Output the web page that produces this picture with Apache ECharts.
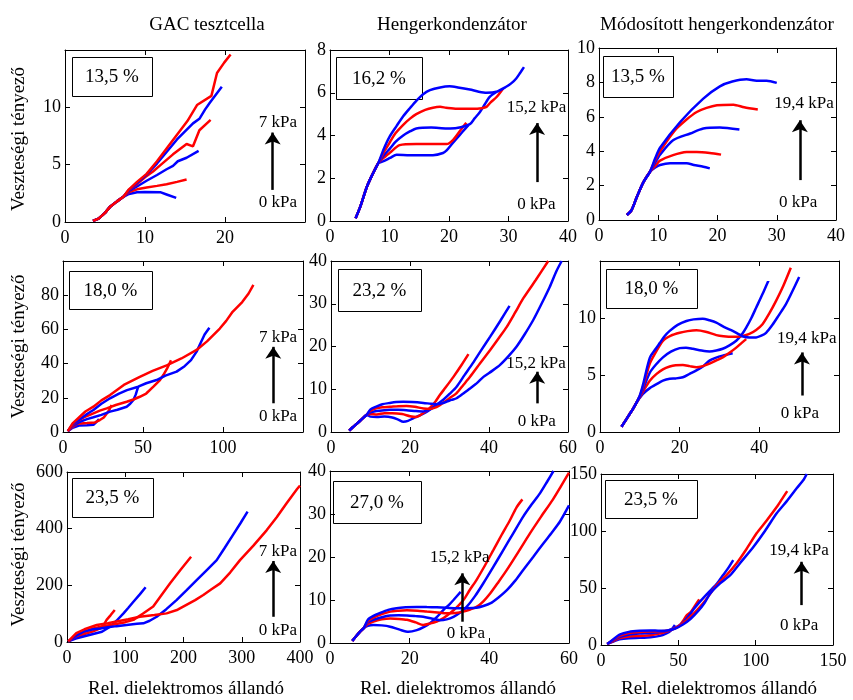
<!DOCTYPE html>
<html>
<head>
<meta charset="utf-8">
<script src="https://cdn.jsdelivr.net/npm/echarts@6/dist/echarts.min.js"></script>
<style>
html,body{margin:0;padding:0;background:#fff}
#chart{width:853px;height:700px}
</style>
</head>
<body>
<div id="chart"></div>
<script>
// ---- text ----
const columnTitles = ['GAC tesztcella', 'Hengerkondenzátor', 'Módosított hengerkondenzátor'];
const xAxisTitle = 'Rel. dielektromos állandó';
const yAxisTitle = 'Veszteségi tényező';
const moistureLabels = ['13,5 %', '16,2 %', '13,5 %', '18,0 %', '23,2 %', '18,0 %', '23,5 %', '27,0 %', '23,5 %'];
const pressureHigh = ['7 kPa', '15,2 kPa', '19,4 kPa', '7 kPa', '15,2 kPa', '19,4 kPa', '7 kPa', '15,2 kPa', '19,4 kPa'];
const pressureLow = '0 kPa';

// ---- axis scales [min, max, interval] ----
const xRanges = [[0,30,10],[0,40,10],[0,40,10],[0,150,50],[0,60,20],[0,60,20],[0,400,100],[0,60,20],[0,150,50]];
const yRanges = [[0,15,5],[0,8,2],[0,10,2],[0,100,20],[0,40,10],[0,15,5],[0,600,200],[0,40,10],[0,150,50]];

// ---- measured curves, ordered from low to high pressure ----
const gac135Start = [[3.5,0.1],[4.2,0.3],[5,0.8],[5.6,1.3],[6.5,1.8],[7.3,2.2]];
const gac135 = [
  gac135Start.concat([[8,2.45],[9,2.6],[10,2.62],[11.9,2.6],[12.7,2.4],[13.9,2.1]]),
  gac135Start.concat([[8,2.6],[9,2.85],[10.2,3.0],[11.5,3.15],[12.7,3.3],[14,3.5],[15.2,3.7]]),
  gac135Start.concat([[8,2.7],[9,3.1],[10.2,3.6],[11.5,4.1],[12.7,4.6],[13.5,4.9],[14.1,5.3],[15.2,5.6],[16.7,6.2]]),
  gac135Start.concat([[8,2.8],[9,3.3],[10,3.9],[11,4.4],[12,5.0],[13.5,5.9],[15.2,6.8],[16,6.6],[16.8,8.0],[18.2,8.9]]),
  gac135Start.concat([[8,2.8],[9,3.4],[10,4.0],[11.5,5.1],[12.7,6.1],[14,7.2],[15,7.9],[16,8.6],[16.8,9.0],[17.5,9.8],[18.1,10.4],[19.6,11.8]]),
  gac135Start.concat([[8,2.85],[9,3.5],[10.2,4.2],[11.5,5.3],[12.7,6.4],[14,7.6],[15.3,8.8],[16.5,10.2],[18.3,11.0],[19,13.0],[19.9,13.9],[20.7,14.6]])
];

const hk162Start = [[4.3,0.13],[5,0.6],[6.2,1.6],[7,2.1],[8.1,2.7]];
const hk162 = [
  hk162Start.concat([[9,2.8],[10.1,2.95],[11.2,3.1],[13.4,3.08],[17.3,3.08],[19,3.18],[19.6,3.3],[20.5,3.6],[21.3,3.86],[22.2,4.15],[23.3,4.5]]),
  hk162Start.concat([[9,2.95],[10.1,3.2],[11.7,3.55],[14.5,3.6],[19.6,3.6],[20.7,3.8],[21.8,4.2],[22.9,4.6]]),
  hk162Start.concat([[9,3.05],[10.1,3.4],[11,3.7],[12.3,4.0],[13.5,4.2],[14.5,4.33],[17,4.37],[19.6,4.33],[21.3,4.35],[23.5,4.53],[24.3,4.8],[25.2,5.1],[26,5.45],[26.8,5.8],[28,6.05]]),
  hk162Start.concat([[9,3.2],[10.1,3.7],[11,4.1],[12.3,4.5],[13.5,4.8],[14.5,5.0],[16,5.2],[17.3,5.3],[18.5,5.34],[19.5,5.3],[21.3,5.25],[24,5.25],[25.5,5.28],[26.3,5.34],[27,5.55],[28,5.8],[29.1,6.2]]),
  hk162Start.concat([[9,3.35],[10,3.94],[11.2,4.45],[12.3,4.9],[13.5,5.3],[14.5,5.62],[15.6,5.92],[16.8,6.12],[18.5,6.25],[20.1,6.3],[21.5,6.25],[23.5,6.15],[25,6.05],[26.3,6.0],[28,6.05],[29.6,6.28],[30.5,6.45],[31.3,6.67],[32,6.95],[32.6,7.2]])
];

const mhk135Start = [[4.7,0.29],[5.5,0.58],[6.4,1.35],[7.5,2.2],[8.6,2.8]];
const mhk135 = [
  mhk135Start.concat([[9.5,3.05],[10.3,3.2],[12,3.3],[14.8,3.3],[16,3.2],[17.6,3.1],[18.7,3.0]]),
  mhk135Start.concat([[9.5,3.15],[10.3,3.45],[12.5,3.77],[14.8,3.95],[16.5,3.96],[18.7,3.9],[20.6,3.8]]),
  mhk135Start.concat([[9.5,3.35],[10.3,3.8],[12.5,4.64],[15.4,5.03],[17.6,5.32],[20.4,5.38],[23.7,5.26]]),
  mhk135Start.concat([[9.5,3.5],[10.3,4.0],[13.1,5.32],[16.5,6.28],[19.9,6.67],[22.7,6.7],[24.5,6.55],[26.8,6.42]]),
  mhk135Start.concat([[9.5,3.6],[10.3,4.2],[13.7,5.7],[17.6,7.06],[20.4,7.77],[22.5,8.05],[24.9,8.18],[26.6,8.1],[28.3,8.1],[30,7.97]])
];

const gac180 = [
  [[3,0.5],[6,2.5],[10,3.8],[15,4.0],[19,4.2],[21,6.0],[22.5,7.5]],
  [[3,0.5],[6,3.0],[9,4.8],[15,5.2],[20,5.6],[23,7.0],[25.5,8.5],[27.5,11],[29,13],[30.4,15.8]],
  [[3,0.5],[6,3.5],[10.6,6],[15,7.5],[19,8.6],[24,10],[29.4,11.9],[34,13],[39.8,14.8],[42,16.5],[44,18.7],[45.5,22],[47,26.5]],
  [[3,0.5],[6,4],[8.5,6],[13,8.5],[19,10.9],[23,12.5],[27.3,13.8],[33,15.8],[39.8,17.7],[44,19],[48,20.6],[52,22.5],[56.5,26.5],[60.6,30.4],[62.7,33.3],[65,37],[67.5,42]],
  [[3,0.5],[6,4.5],[10.6,7.5],[15,10.5],[19,12.9],[24,16.5],[29.4,19.7],[35,22.5],[40,24.5],[47,26.5],[52,28.5],[58.5,30.4],[64,33],[71,35.3],[76,38.5],[80,42],[83.5,47],[86,52],[88.5,57],[91.5,61]],
  [[3,0.5],[6,5],[10,8.5],[14,12],[19,14.8],[24,18.5],[29.4,21.6],[38,27.5],[48,32.3],[56,35.7],[64.8,39],[74,43],[83.5,48],[90,53],[98,60.5],[102,65],[106,70.3],[112,76],[116,81],[119,86]]
];

const hk232Start = [[4.6,0.3],[5.5,1.1],[6.5,1.9],[7.8,3.0],[9,4.0]];
const hk232 = [
  hk232Start.concat([[10,3.6],[11.6,3.5],[13.5,3.6],[15.5,3.4],[17,2.9],[18.3,2.4],[19.5,2.6],[20.8,3.2],[22.5,3.9],[24.2,4.7],[25.5,5.5],[26.7,6.3]]),
  hk232Start.concat([[10,4.2],[11.6,4.1],[13.5,4.4],[15.5,4.4],[18,4.2],[20,3.7],[21.6,3.5],[23,4.2],[25.1,5.7],[26.5,7.2],[27.6,8.7],[29,10.4],[31,12.9],[33,15.6],[34.8,18.2]]),
  hk232Start.concat([[10,4.6],[11.6,4.9],[13.5,5.1],[14.9,5.2],[17,5.2],[19.1,5.1],[21.5,4.9],[23.4,4.8],[24.7,5.2],[25.9,5.8],[27.2,6.7],[28.5,7.6],[30,8.9],[31.8,10.6],[33.8,13.3],[35.9,16.1],[38,19.1],[40.3,22.3],[42.8,25.9],[45.2,29.5]]),
  hk232Start.concat([[10,5.0],[11.6,5.6],[13,5.8],[14.9,5.9],[17,6.05],[19.1,6.1],[21.2,5.9],[23.4,5.5],[25,5.4],[26.7,5.8],[28.5,6.9],[30,7.9],[31.8,9.1],[33.5,11],[35.2,12.9],[37.7,16],[40.3,19.2],[42.5,22],[44.5,24.6],[46.6,27.9],[48.7,31.3],[51.8,35.5],[55,40]]),
  hk232Start.concat([[10,5.3],[11.6,6.0],[13,6.5],[14.9,6.8],[16.5,7.0],[18.3,7.05],[20.5,7.0],[23.4,6.8],[25.3,6.6],[26.8,6.5],[28,6.7],[29.3,7.1],[30.5,7.5],[31.8,7.9],[33.5,9.0],[35.2,10.2],[37,11.5],[38.6,12.9],[40.8,14.3],[42.8,15.7],[45,17.8],[47,20],[49,22.8],[51.2,26.2],[53.3,30],[55.4,34],[57,37.5],[58.4,40]])
];

const mhk180Start = [[5.4,0.46],[6.4,1.0],[7.5,1.6],[8.4,2.1],[9.2,2.6]];
const mhk180 = [
  mhk180Start.concat([[10,3.0],[10.8,3.35],[12.5,3.85],[14.2,4.2],[15.8,4.5],[17.5,4.67],[19,4.7],[20.8,4.8],[22.5,5.1],[24.2,5.4],[26,5.8],[27.5,6.26],[29,6.5],[30.8,6.7],[33.3,6.9]]),
  mhk180Start.concat([[10,3.05],[10.8,3.55],[12.5,4.5],[14.2,5.1],[15.8,5.5],[17.5,5.74],[19,5.85],[20.8,5.88],[22.5,5.78],[24.2,5.68],[25.8,5.78],[27.5,6.0],[29,6.25],[30.8,6.55],[32.5,6.95],[34.2,7.4],[35.5,7.8],[36.7,8.15]]),
  mhk180Start.concat([[10,3.1],[10.8,3.75],[12.5,5.2],[14,5.9],[15.8,6.55],[17.8,7.05],[20,7.36],[21.6,7.4],[23.3,7.3],[25.5,7.15],[27.5,7.07],[29.2,7.15],[30.8,7.3],[32.5,7.6],[34.2,8.0],[35.5,8.5],[36.7,9.16],[38,10],[39.2,10.9],[40.8,12.1],[42.3,13.3]]),
  mhk180Start.concat([[10,3.15],[10.8,3.95],[12.5,6.0],[14,7.0],[15.8,8.0],[17.8,8.45],[20,8.7],[22,8.85],[24.2,8.93],[26.5,8.8],[29.2,8.5],[31,8.4],[33.3,8.35],[35.5,8.4],[37.5,8.6],[39.2,8.95],[40.8,9.45],[42.5,10.4],[44.2,11.5],[46,12.8],[47.9,14.4]]),
  mhk180Start.concat([[10,3.2],[10.8,4.15],[12.5,6.5],[14,7.3],[15,7.8],[16.2,8.4],[17.5,8.87],[19.5,9.4],[21.7,9.74],[23.5,9.88],[25.8,9.94],[27.5,9.8],[29.2,9.6],[31.2,9.2],[33.3,8.87],[35.8,8.4],[37.5,8.3],[39.2,8.3],[40.5,8.45],[41.7,8.7],[43.3,9.4],[45,10.3],[46.5,11.1],[47.9,12.06],[50,13.6]])
];

const gac235 = [
  [[2,2],[15,15],[30,28],[45,38],[57,48],[63,60],[68,78],[75,95],[82,113]],
  [[2,2],[15,12],[30,20],[45,28],[60,36],[74,54],[85,75],[97,101],[105,120],[114,142],[125,168],[135,193]],
  [[2,2],[15,20],[30,35],[45,48],[60,55],[80,62],[100,70],[114,78],[130,100],[148,125],[162,165],[177,207],[195,255],[213,301]],
  [[2,2],[15,22],[30,38],[45,45],[57,48],[70,52],[85,56],[102,60],[120,64],[131,66],[142,75],[154,89],[170,115],[188,148],[205,182],[223,219],[240,254],[257,289],[270,330],[285,378],[298,420],[310,460]],
  [[2,2],[16,31],[30,45],[51,60],[70,66],[85,72],[105,80],[125,89],[150,95],[171,101],[190,114],[205,131],[220,148],[234,166],[248,186],[263,207],[280,245],[297,289],[320,340],[343,395],[360,440],[377,490],[395,540],[400,552]]
];

const hk270Start = [[5.6,0.5],[6.5,1.5],[7.5,2.6],[8.5,3.5]];
const hk270 = [
  hk270Start.concat([[9.5,4.0],[10.9,4.2],[13,4.1],[15.1,3.8],[17.5,3.1],[19.7,2.6],[21.8,3.0],[23.5,3.7],[25.1,4.6],[26.8,6.0],[28.5,7.7],[30,9.0],[31,10],[32.8,11.9]]),
  hk270Start.concat([[9.5,4.4],[10.9,5.0],[13,5.5],[15.1,5.7],[17.3,5.6],[19.3,5.4],[21.5,4.8],[23.4,4.2],[25,4.5],[26.8,5.0],[28.5,5.8],[30.1,6.9],[31.8,8.3],[33.5,10],[35,12.2],[36.8,14.7],[39,18.2],[41,21.6],[43,25],[45.2,28.6],[46.8,31.5],[48.3,33.4]]),
  hk270Start.concat([[9.5,4.8],[10.9,5.4],[13,6.0],[15.1,6.4],[17.2,6.45],[19.3,6.4],[21.5,6.25],[23.4,6.1],[25.5,5.7],[27.6,5.3],[29.3,5.5],[31,6.1],[32.7,7.1],[34.3,8.4],[36.4,10.9],[38.5,13.9],[41,17.7],[43.5,21.6],[46,25.5],[48.5,29.4],[50.6,32.2],[52.7,34.8],[54.5,37.5],[56.1,40]]),
  hk270Start.concat([[9.5,5.1],[10.9,5.9],[13,6.7],[15.1,7.3],[17.2,7.5],[19.3,7.6],[22,7.5],[24.3,7.3],[27,7.1],[29.3,6.9],[31.5,7.0],[33.5,7.3],[35.2,7.8],[36.8,8.4],[38.5,9.7],[40.2,11.5],[42.3,14.2],[44.4,17],[47.3,21.2],[50.2,25.5],[53,29.4],[55.9,33.3],[58,36.5],[60,39.6]]),
  hk270Start.concat([[9.5,5.4],[10.9,6.3],[12.6,7.0],[14.6,7.7],[16.7,8.1],[19,8.3],[21.8,8.4],[24.3,8.35],[26.8,8.3],[29.3,8.2],[31.8,8.1],[34.3,8.1],[36.8,8.2],[38.5,8.6],[40.2,9.2],[42.3,10.6],[44.4,12.3],[46.5,14.5],[48.5,17],[51,20],[53.6,23.2],[55.7,25.7],[57.7,28.2],[60,32]])
];

const mhk235 = [
  [[4,0.9],[8,3],[12,5],[18,6],[25,6.3],[32,6.8],[38,8],[42,10],[45,12.5],[47.8,17.5]],
  [[4,0.9],[8,3.5],[12,6],[18,7.5],[25,8],[32,8.5],[38,10],[42,11.5],[46,13.5],[50,16],[53,21],[55.4,26],[58,29],[61,35],[63.5,40]],
  [[4,0.9],[8,4],[12,7],[18,9],[25,10],[32,10.5],[38,11.5],[43,12.5],[48,15],[53,19.5],[57,26],[60,31.5],[64,38],[68,44],[71,48.2],[75,54],[79,61.4],[82,67],[85.5,74.5]],
  [[4,0.9],[8,4.5],[12,8],[18,10.5],[25,11.5],[32,11.8],[38,12],[43,12.5],[48,15],[53,19],[58,25],[63,32],[68,40],[74.8,52.6],[81,61],[87.7,71.7],[94,84],[100.6,98],[107,109],[113.6,121],[117,128],[120.4,135]],
  [[4,0.9],[8,5],[12,9],[18,11.5],[25,12.5],[32,12.8],[38,12.5],[43,12.8],[48,14.5],[53,18],[58,23],[63,30],[67,37],[70.5,45],[77,54],[83.4,61],[90,72],[98.5,86],[106,100],[113.6,115.5],[120,126],[126.5,137.5],[131,145],[133,150]]
];

const panelCurves = [gac135, hk162, mhk135, gac180, hk232, mhk180, gac235, hk270, mhk235];

// ---- pressure arrows in data units: [x, from y, to y] and label anchors ----
const arrowSpec = [[25.96,2.8,7.8],[34.8,1.82,4.58],[33.9,2.32,5.8],[131.4,16.8,49.8],[52.2,6.7,14.1],[50.7,3.2,6.98],[354,89,286],[33.2,4.95,16.2],[129.7,35,73]];
const highLabelAt = [[26.6,8.7],[34.7,5.33],[34.6,6.76],[134.4,55.2],[51.9,15.9],[51.9,8.2],[362,319],[32.6,19.9],[128,82.5]];
const lowLabelAt = [[26.6,1.7],[34.7,0.77],[33.6,1.02],[134.4,8.9],[52.1,2.4],[50.2,1.65],[362,42],[34.1,2.1],[128.1,17.5]];

// ---- layout and styling ----
const FONT = '"Liberation Serif", "Times New Roman", serif';
const BLUE = '#0000ff', RED = '#ff0000';
const gridLayout = [
  [65,50,240,172],[330,50,238,171],[599,48,237,172],
  [63,261,240,171],[331,261,237,171],[600,261,239,171],
  [67,472,233,170],[330,471,239,172],[601,474,232,171]
];
const trimMaxLabel = [true,false,false,true,false,true,false,false,false];
const smoothCurves = [false,true,true,false,true,true,false,true,true];
// colour of the lowest-pressure curve in each panel; the rest alternate
const firstColour = [BLUE,BLUE,BLUE,BLUE,BLUE,BLUE,RED,BLUE,BLUE];
const boxLayout = [[72,57,80,39],[336,57,86,42],[603,56,70,41],[69,271,83,38],[338,269,83,42],[606,269,91,39],[72,478,81,39],[333,481,88,42],[605,480,92,38]];

const chart = echarts.init(document.getElementById('chart'));
const grids = [], xAxes = [], yAxes = [], series = [];

panelCurves.forEach((curves, i) => {
  const [gl, gt, gw, gh] = gridLayout[i];
  grids.push({left: gl, top: gt, width: gw, height: gh});
  const xr = xRanges[i], yr = yRanges[i];
  const common = {
    gridIndex: i, type: 'value',
    splitLine: {show: false},
    axisLine: {show: true, onZero: false, lineStyle: {color: '#000', width: 1}},
    axisTick: {show: true, inside: true, length: 5, lineStyle: {color: '#000', width: 1}}
  };
  const label = {color: '#000', fontFamily: FONT, fontSize: 18};
  const xl = Object.assign({}, label, {margin: 7});
  const yl = Object.assign({}, label, {margin: 4});
  if (trimMaxLabel[i]) { xl.showMaxLabel = false; yl.showMaxLabel = false; }
  xAxes.push(Object.assign({}, common, {position: 'bottom', min: xr[0], max: xr[1], interval: xr[2], axisLabel: xl}));
  xAxes.push(Object.assign({}, common, {position: 'top', min: xr[0], max: xr[1], interval: xr[2], axisLabel: {show: false}}));
  yAxes.push(Object.assign({}, common, {position: 'left', min: yr[0], max: yr[1], interval: yr[2], axisLabel: yl}));
  yAxes.push(Object.assign({}, common, {position: 'right', min: yr[0], max: yr[1], interval: yr[2], axisLabel: {show: false}}));

  const other = firstColour[i] === BLUE ? RED : BLUE;
  curves.forEach((pts, k) => {
    const colour = k % 2 ? other : firstColour[i];
    const s = {
      type: 'line', xAxisIndex: 2 * i, yAxisIndex: 2 * i,
      data: pts, showSymbol: false, smooth: smoothCurves[i] ? 0.25 : false,
      lineStyle: {width: 2.5, color: colour},
      itemStyle: {color: colour},
      silent: true, animation: false, z: 2
    };
    if (k === 0) {
      const a = arrowSpec[i];
      s.markLine = {
        silent: true, animation: false,
        symbol: ['none', 'arrow'], symbolSize: 12,
        lineStyle: {color: '#000', width: 2.5, type: 'solid'},
        label: {show: false},
        data: [[{coord: [a[0], a[1]]}, {coord: [a[0], a[2]]}]]
      };
      s.markPoint = {
        silent: true, animation: false,
        symbol: 'rect', symbolSize: 1,
        itemStyle: {color: 'rgba(0,0,0,0)'},
        label: {show: true, position: 'inside', color: '#000', fontFamily: FONT, fontSize: 17, formatter: p => p.name},
        data: [
          {name: pressureHigh[i], coord: highLabelAt[i]},
          {name: pressureLow, coord: lowLabelAt[i]}
        ]
      };
    }
    series.push(s);
  });
});

const graphic = [];
const titleX = [207, 452, 717];
columnTitles.forEach((t, c) => graphic.push({
  type: 'text', x: titleX[c], y: 25,
  style: {text: t, fontFamily: FONT, fontSize: 19, fill: '#000', align: 'center', verticalAlign: 'middle'}
}));
const xNameX = [186, 458, 719];
xNameX.forEach(x => graphic.push({
  type: 'text', x: x, y: 689,
  style: {text: xAxisTitle, fontFamily: FONT, fontSize: 19, fill: '#000', align: 'center', verticalAlign: 'middle'}
}));
[139, 346.5, 554.5].forEach(y => graphic.push({
  type: 'text', x: 19, y: y, rotation: Math.PI / 2,
  style: {text: yAxisTitle, fontFamily: FONT, fontSize: 19, fill: '#000', align: 'center', verticalAlign: 'middle'}
}));
boxLayout.forEach((b, i) => {
  graphic.push({
    type: 'rect', shape: {x: b[0] + 0.5, y: b[1] + 0.5, width: b[2], height: b[3]},
    style: {fill: 'none', stroke: '#000', lineWidth: 1}
  });
  graphic.push({
    type: 'text', x: b[0] + b[2] / 2, y: b[1] + b[3] / 2 + 1,
    style: {text: moistureLabels[i], fontFamily: FONT, fontSize: 19, fill: '#000', align: 'center', verticalAlign: 'middle'}
  });
});

chart.setOption({
  backgroundColor: '#fff',
  animation: false,
  grid: grids,
  xAxis: xAxes,
  yAxis: yAxes,
  series: series,
  graphic: graphic
});
</script>
</body>
</html>
